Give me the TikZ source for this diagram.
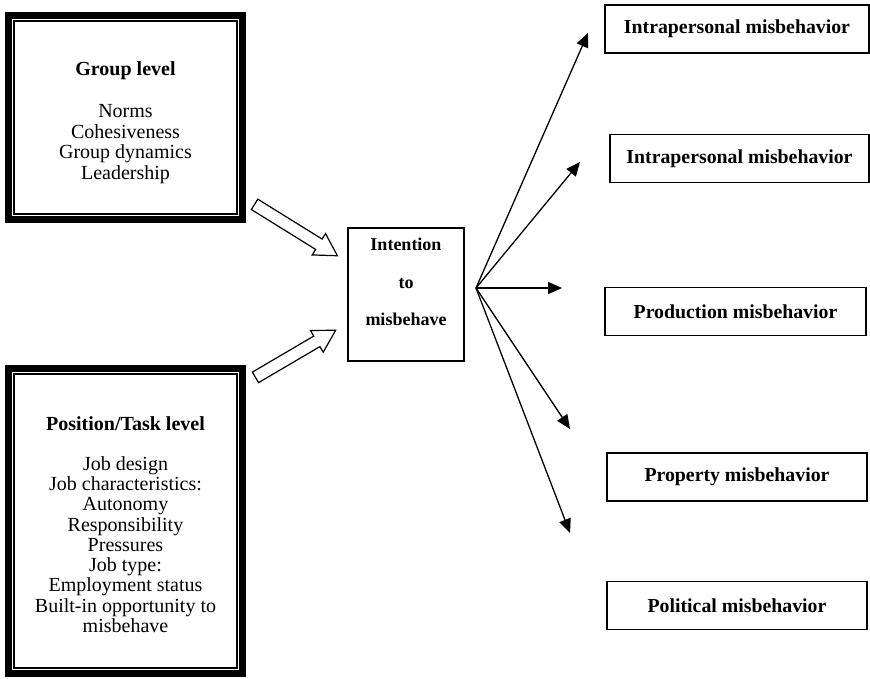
\documentclass[tikz,border=0pt]{standalone}
\usepackage{fontspec}
\setmainfont{Liberation Serif}
\usetikzlibrary{arrows.meta,shapes.arrows}
\tikzset{%
  level/.style={draw,line width=7pt,minimum width=234pt,align=center,font=\fontsize{20}{20.5}\selectfont},
  innerFrame/.style={line width=1.2pt},
  outcome/.style={draw,line width=1.3pt,minimum height=48pt,font=\bfseries\fontsize{19.8}{20}\selectfont},
  arrow/.style={line width=1.3pt,-{Triangle[length=14pt,width=12pt]}},
  hollow/.style={single arrow,draw,fill=white,line width=1.2pt,inner xsep=0pt,inner ysep=5.5pt,single arrow head extend=6.5pt,single arrow tip angle=60},
}

\begin{document}
\begin{tikzpicture}[x=1pt,y=-1pt]
  \useasboundingbox (0,0) rectangle (870,678);

  \node[level,minimum height=204pt,text height=127.6pt,text depth=4.4pt] (groupLevel) at (125.5,117.5) {\textbf{Group level}\\[22pt]Norms\\Cohesiveness\\Group dynamics\\Leadership};
  \node[level,minimum height=305pt,text height=222.5pt,text depth=0pt,font=\fontsize{20}{20.25}\selectfont] (taskLevel) at (125.5,521) {\textbf{Position/Task level}\\[19.75pt]Job design\\Job characteristics:\\Autonomy\\Responsibility\\Pressures\\Job type:\\Employment status\\Built-in opportunity to\\misbehave};
  \draw[innerFrame] ([shift={(9,9)}]groupLevel.north west) rectangle ([shift={(-9,-9)}]groupLevel.south east);
  \draw[innerFrame] ([shift={(9,9)}]taskLevel.north west) rectangle ([shift={(-9,-9)}]taskLevel.south east);

  \node[draw,line width=1.2pt,minimum width=116pt,minimum height=133pt,align=center,text depth=25pt,font=\bfseries\fontsize{18}{37.5}\selectfont] (intention) at (406,294.5) {Intention\\to\\misbehave};

  \node[outcome,minimum width=264pt] (intraA) at (737,29) {Intrapersonal misbehavior};
  \node[outcome,minimum width=259pt] (intraB) at (739.5,158.5) {Intrapersonal misbehavior};
  \node[outcome,minimum width=261pt] (production) at (735.5,311.5) {Production misbehavior};
  \node[outcome,minimum width=260pt] (property) at (737,477) {Property misbehavior};
  \node[outcome,minimum width=260pt] (political) at (737,605.5) {Political misbehavior};

  % hollow arrows into the intention box
  \coordinate (groupOut) at (250,201.5);
  \coordinate (groupIn) at (333,253);
  \coordinate (taskOut) at (251,380);
  \coordinate (taskIn) at (331,333);
  \path (groupOut) -- node[hollow,sloped,minimum height=97.5pt] {} (groupIn);
  \path (taskOut) -- node[hollow,sloped,minimum height=93pt] {} (taskIn);

  % fan of outcomes
  \coordinate (fan) at (476,288);
  \coordinate (tipA) at (588,33);
  \coordinate (tipB) at (580,162);
  \coordinate (tipC) at (562,288);
  \coordinate (tipD) at (570,429);
  \coordinate (tipE) at (570,533);
  \draw[arrow] (fan) -- (tipA);
  \draw[arrow] (fan) -- (tipB);
  \draw[arrow] (fan) -- (tipC);
  \draw[arrow] (fan) -- (tipD);
  \draw[arrow] (fan) -- (tipE);
\end{tikzpicture}
\end{document}
